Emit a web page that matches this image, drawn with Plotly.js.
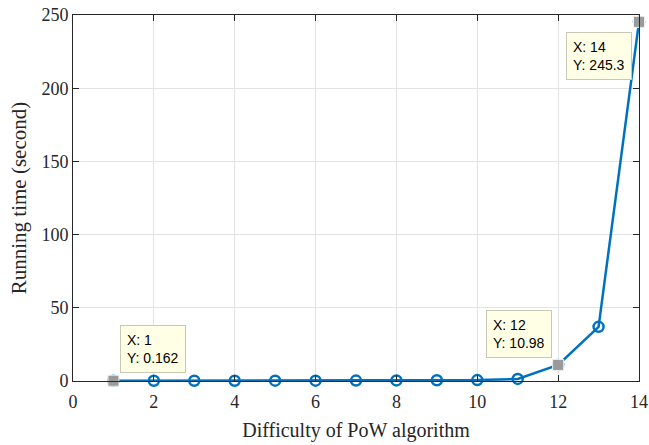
<!DOCTYPE html>
<html>
<head>
<meta charset="utf-8">
<script src="https://cdn.plot.ly/plotly-3.0.1.min.js"></script>
<style>html,body{margin:0;padding:0;background:#fff;}#chart{width:649px;height:445px;}</style>
</head>
<body>
<div id="chart"></div>
<script>
const difficulty = [1, 2, 3, 4, 5, 6, 7, 8, 9, 10, 11, 12, 13, 14];
const runningTime = [0.162, 0.17, 0.18, 0.2, 0.22, 0.25, 0.3, 0.4, 0.5, 0.6, 1.4, 10.98, 37, 245.3];
const tipX = [1, 12, 14];
const tipY = [0.162, 10.98, 245.3];
const tipLabels = ["X: 1<br>Y: 0.162", "X: 12<br>Y: 10.98", "X: 14<br>Y: 245.3"];
const xTicks = [0, 2, 4, 6, 8, 10, 12, 14];
const yTicks = [0, 50, 100, 150, 200, 250];

const serif = '"Liberation Serif", "Times New Roman", serif';
const sans = '"Liberation Sans", Arial, sans-serif';

const tipPlacement = [
  {xanchor: 'left', yanchor: 'bottom', xshift: 7, yshift: 8},
  {xanchor: 'right', yanchor: 'bottom', xshift: -6, yshift: 7},
  {xanchor: 'right', yanchor: 'top', xshift: -7, yshift: -10}
];

const traces = [
  {
    x: difficulty, y: runningTime, type: 'scatter', mode: 'lines+markers',
    line: {color: '#0072BD', width: 2.5},
    marker: {symbol: 'circle-open', size: 10, color: '#0072BD', line: {width: 2.5, color: '#0072BD'}},
    cliponaxis: false, showlegend: false, hoverinfo: 'skip'
  },
  {
    x: tipX, y: tipY, type: 'scatter', mode: 'markers',
    marker: {symbol: 'square', size: 11, color: '#9a9a9a', line: {width: 1, color: '#f0f0f0'}},
    cliponaxis: false, showlegend: false, hoverinfo: 'skip'
  }
];

const annotations = tipX.map((x, i) => Object.assign({
  x: x, y: tipY[i], xref: 'x', yref: 'y', text: tipLabels[i], showarrow: false,
  align: 'left', bgcolor: '#ffffe6', bordercolor: '#c8c8b4', borderwidth: 1, borderpad: 6,
  font: {family: sans, size: 14, color: '#000'}
}, tipPlacement[i]));

function axisCommon() {
  return {
    showline: true, linecolor: '#262626', linewidth: 1, mirror: 'ticks',
    ticks: 'inside', ticklen: 6, tickcolor: '#262626', tickwidth: 1,
    showgrid: true, gridcolor: '#e3e3e3', gridwidth: 1, zeroline: false,
    tickfont: {family: serif, size: 18, color: '#262626'}
  };
}

const layout = {
  width: 649, height: 445,
  margin: {l: 73, r: 10, t: 15, b: 64},
  paper_bgcolor: '#fff', plot_bgcolor: '#fff',
  font: {family: serif, size: 18, color: '#262626'},
  xaxis: Object.assign(axisCommon(), {
    range: [0, 14], tickvals: xTicks, ticktext: xTicks.map(String),
    ticklabelstandoff: 4,
    title: {text: 'Difficulty of PoW algorithm', standoff: 12,
      font: {family: serif, size: 20, color: '#262626'}}
  }),
  yaxis: Object.assign(axisCommon(), {
    range: [0, 250], tickvals: yTicks, ticktext: yTicks.map(String),
    title: {text: 'Running time (second)', standoff: 9,
      font: {family: serif, size: 21, color: '#262626'}}
  }),
  annotations: annotations
};

Plotly.newPlot('chart', traces, layout, {displayModeBar: false, staticPlot: true});
</script>
</body>
</html>
